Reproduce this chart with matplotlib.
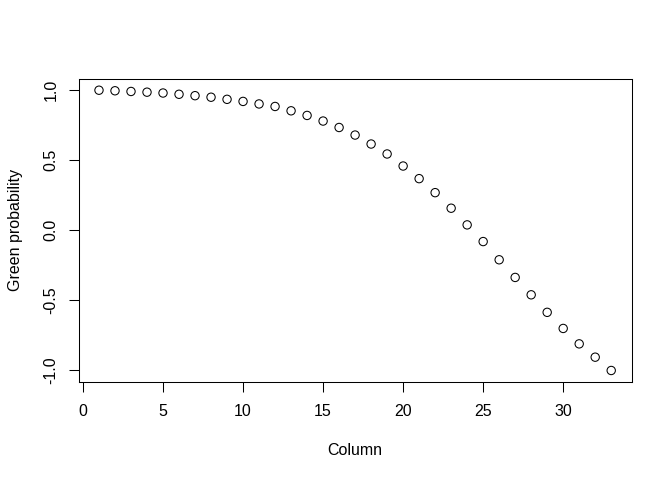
import matplotlib.pyplot as plt
import numpy as np

plt.rcParams['font.family'] = ['Liberation Sans', 'DejaVu Sans']

# values
column = list(range(1, 34))
green_prob = [1.000, 0.996, 0.991, 0.986, 0.980, 0.971, 0.961, 0.950, 0.935, 0.920,
              0.902, 0.884, 0.853, 0.820, 0.780, 0.734, 0.680, 0.616, 0.545, 0.459,
              0.369, 0.269, 0.158, 0.039, -0.080, -0.210, -0.336, -0.460, -0.585,
              -0.700, -0.810, -0.905, -1.000]

xticks = [0, 5, 10, 15, 20, 25, 30]
yticks = [-1.0, -0.5, 0.0, 0.5, 1.0]

fig = plt.figure(figsize=(6.72, 4.8), dpi=100)
ax = fig.add_axes([78.5 / 672, 1 - 381.7 / 480, (631.7 - 78.5) / 672, (381.7 - 79) / 480])

ax.scatter(column, green_prob, s=6.0 ** 2, facecolors='none', edgecolors='black', linewidths=0.75)

# R-style axis ranges: extend 4% on each side
xr = max(column) - min(column)
ax.set_xlim(min(column) - 0.04 * xr, max(column) + 0.04 * xr)
yr = max(green_prob) - min(green_prob)
ax.set_ylim(min(green_prob) - 0.04 * yr, max(green_prob) + 0.04 * yr)

ax.set_xticks(xticks)
ax.set_xticklabels([str(t) for t in xticks])
ax.set_yticks(yticks)
ax.set_yticklabels([f'{t:.1f}' for t in yticks], rotation=90, va='center')

for s in ax.spines.values():
    s.set_linewidth(0.75)
ax.tick_params(direction='out', length=7, width=0.75, labelsize=11.5)
ax.tick_params(axis='x', pad=9)
ax.tick_params(axis='y', pad=7.5)

ax.set_xlabel('Column', fontsize=11.5, labelpad=17)
ax.set_ylabel('Green probability', fontsize=11.5, labelpad=15)

fig.savefig('out.png', dpi=100)
